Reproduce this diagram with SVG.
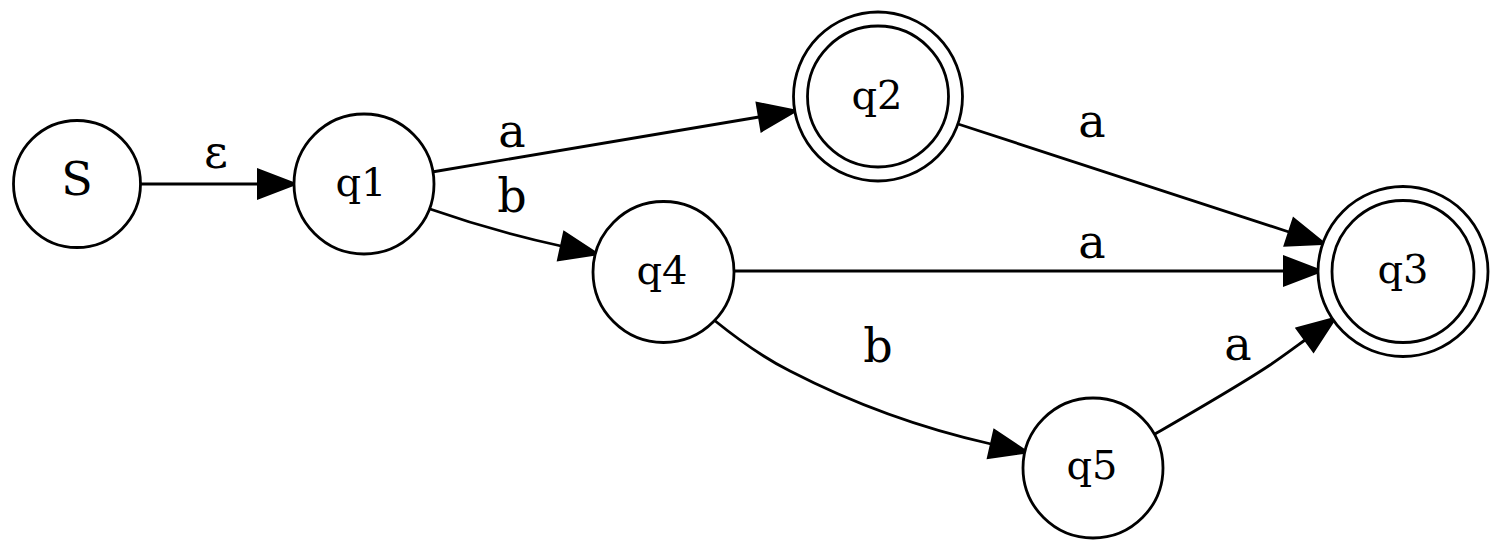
<svg xmlns="http://www.w3.org/2000/svg" width="1500" height="551" viewBox="0 0 1500 551">
<style>
  .n { fill: #fff; stroke: #000; stroke-width: 2.8; }
  .t { font-family: "DejaVu Serif", "Liberation Serif", serif; font-size: 40px; text-anchor: middle; fill: #000; }
  .big { font-size: 46px; }
  .e { fill: none; stroke: #000; stroke-width: 2.8; marker-end: url(#arr); }
  .l { font-family: "DejaVu Serif", "Liberation Serif", serif; font-size: 46px; text-anchor: middle; fill: #000; }
</style>
<defs>
  <marker id="arr" markerUnits="userSpaceOnUse" markerWidth="40" markerHeight="32" refX="0" refY="15" orient="auto" overflow="visible">
    <path d="M0,0.5 L38,15 L0,29.5 Z" fill="#000" stroke="#000" stroke-width="2"/>
  </marker>
</defs>
<rect width="1500" height="551" fill="#fff"/>
<g id="edges">
  <path class="e" d="M141,184 L258,184"/>
  <path class="e" d="M432,172 L759,117"/>
  <path class="e" d="M430,209 C470,223 515,236 561,246"/>
  <path class="e" d="M958,124 L1289,232"/>
  <path class="e" d="M734,271 L1284,271"/>
  <path class="e" d="M714,320 C735,337 760,356 790,371 C850,402 920,428 991,444"/>
  <path class="e" d="M1155,434 C1200,408 1240,385 1270,365 C1282,357 1294,348 1305,340"/>
  <text class="l" x="216" y="168">ε</text>
  <text class="l" x="512" y="147">a</text>
  <text class="l" x="512" y="212">b</text>
  <text class="l" x="1092" y="137">a</text>
  <text class="l" x="1092" y="258">a</text>
  <text class="l" x="878" y="362">b</text>
  <text class="l" x="1238" y="360">a</text>
</g>
<g id="S">
  <circle class="n" cx="77" cy="184" r="63.5"/>
  <text class="t big" x="77" y="195">S</text>
</g>
<g id="q1">
  <circle class="n" cx="364" cy="184" r="70"/>
  <text class="t" x="361" y="196">q1</text>
</g>
<g id="q2">
  <circle class="n" cx="878" cy="96.5" r="84.5"/>
  <circle class="n" cx="878" cy="96.5" r="70.5"/>
  <text class="t" x="877" y="109">q2</text>
</g>
<g id="q3">
  <circle class="n" cx="1403" cy="271.5" r="85"/>
  <circle class="n" cx="1403" cy="271.5" r="71"/>
  <text class="t" x="1403" y="283">q3</text>
</g>
<g id="q4">
  <circle class="n" cx="663.5" cy="272" r="70.5"/>
  <text class="t" x="662" y="284">q4</text>
</g>
<g id="q5">
  <circle class="n" cx="1093" cy="468" r="70"/>
  <text class="t" x="1092" y="479">q5</text>
</g>
</svg>
